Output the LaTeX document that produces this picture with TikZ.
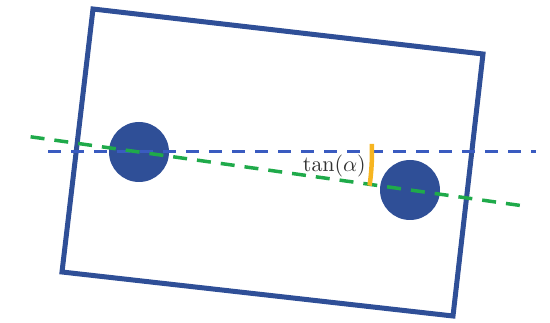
\documentclass[tikz,border=0pt]{standalone}
\usepackage{graphicx}
\usepackage{tikz}
\usetikzlibrary{positioning, calc}
\usepackage{xcolor}
\definecolor{frameblue}{HTML}{2F4F97}
\definecolor{lineblue}{HTML}{3A5BC0}
\definecolor{linegreen}{HTML}{1FAA4A}
\definecolor{angleorange}{HTML}{F7B520}
\definecolor{labelgray}{HTML}{333333}

\begin{document}
\begin{tikzpicture}[x=1pt, y=-1pt,
    frame/.style={draw=frameblue, line width=5pt, line join=miter},
    ball/.style={circle, fill=frameblue, inner sep=0pt, minimum size=60pt},
    level/.style={draw=lineblue, line width=3pt, dash pattern=on 13pt off 10pt},
    tilt/.style={draw=linegreen, line width=3.5pt, dash pattern=on 14pt off 10pt}]
    \useasboundingbox (0,0) rectangle (550,323);
    % tilted box
    \coordinate (tl) at (93,9);
    \coordinate (tr) at (483,54);
    \coordinate (br) at (453,316);
    \coordinate (bl) at (62,272);
    \draw[frame] (tl) -- (tr) -- (br) -- (bl) -- cycle;
    % the two balls
    \node[ball] (left) at (139,152) {};
    \node[ball] (right) at (410,190) {};
    % horizontal and tilted reference lines
    \coordinate (hstart) at (48,152);
    \coordinate (hend) at (536,152);
    \draw[level] (hstart) -- (hend);
    \coordinate (gstart) at ($(left.center)!-0.4!(right.center)$);
    \coordinate (gend) at ($(left.center)!1.44!(right.center)$);
    \draw[tilt] (gstart) -- (gend);
    % angle mark
    \draw[angleorange, line width=4.5pt] ($(left.center)+(-2:233)$) arc[start angle=-2, end angle=8.3, radius=233];
    \node[text=labelgray, inner sep=1pt, anchor=east] (angle) at (367,166) {\scalebox{2.2}{$\tan(\alpha)$}};
\end{tikzpicture}
\end{document}
